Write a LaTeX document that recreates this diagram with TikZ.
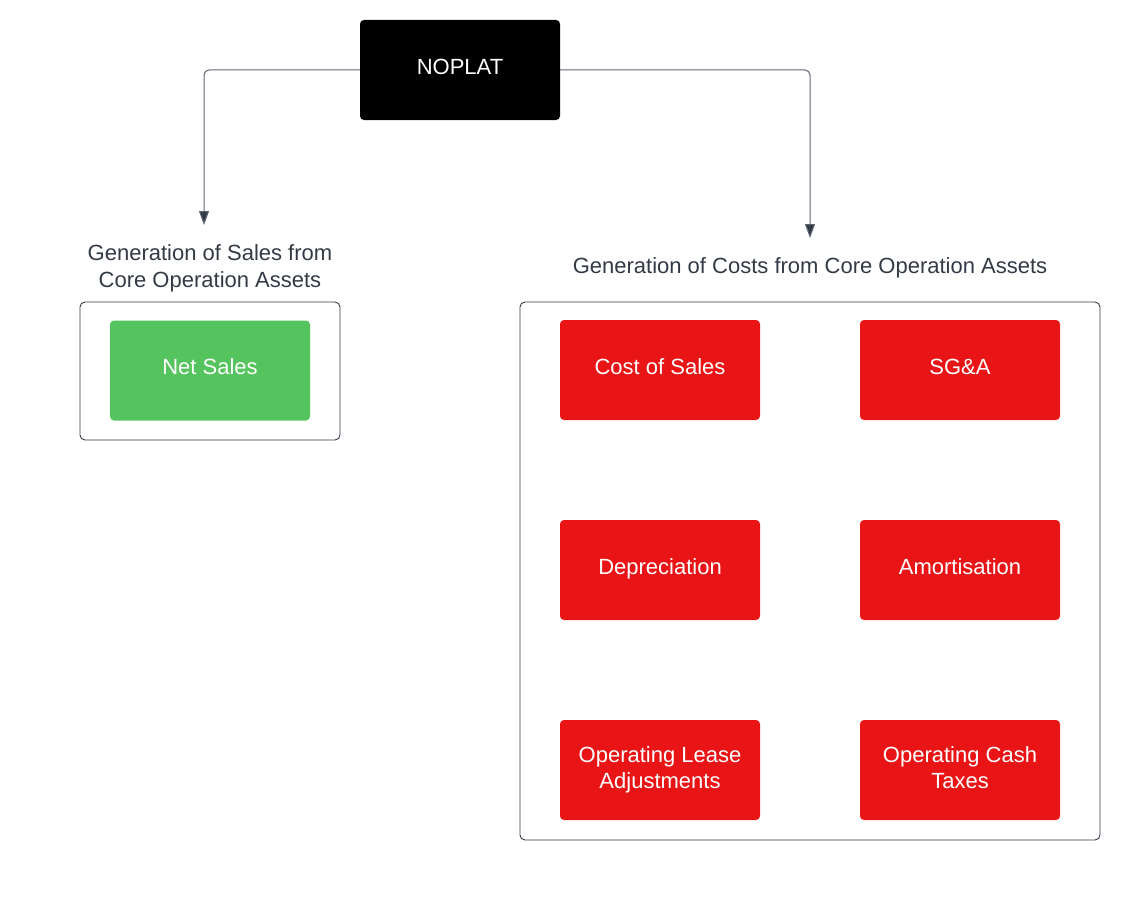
\documentclass[tikz,border=0pt]{standalone}
\usepackage{fontspec}
\setmainfont{Liberation Sans}
\usetikzlibrary{arrows.meta}
\definecolor{redbox}{HTML}{E81416}
\definecolor{greenbox}{HTML}{55C45E}
\definecolor{labeltxt}{HTML}{333A45}
\definecolor{linegray}{HTML}{5E6570}
\begin{document}
\begin{tikzpicture}[x=1pt,y=-1pt,
  box/.style={rectangle,rounded corners=4pt,minimum width=200pt,minimum height=100pt,inner sep=0pt,text=white,font=\fontsize{22}{26}\selectfont,align=center},
  one/.style={text height=16pt,text depth=7.5pt},
  redb/.style={box,fill=redbox},
  container/.style={draw=labeltxt,line width=0.9pt,rounded corners=5pt},
  lbl/.style={text=labeltxt,font=\fontsize{22}{27}\selectfont,align=center,inner sep=0pt},
  conn/.style={draw=linegray,line width=1pt,rounded corners=5pt,-{Triangle[width=10pt,length=14pt,fill=labeltxt]},color=linegray}]
\useasboundingbox (0,0) rectangle (1140,899);
\node[box,one,fill=black] (noplat) at (460,70) {NOPLAT};
\node[lbl] (lsales) at (210,268) {Generation of Sales from\\Core Operation Assets};
\node[lbl] (lcosts) at (810,268) {Generation of Costs from Core Operation Assets};
\draw[container] (80,302) rectangle (340,440);
\draw[container] (520,302) rectangle (1100,840);
\node[box,one,fill=greenbox] (net) at (210,370.5) {Net Sales};
\node[redb,one] (cos) at (660,370) {Cost of Sales};
\node[redb,one] (sga) at (960,370) {SG\&A};
\node[redb,one] (dep) at (660,570) {Depreciation};
\node[redb,one] (amo) at (960,570) {Amortisation};
\node[redb] (ola) at (660,770) {Operating Lease\\Adjustments};
\node[redb] (oct) at (960,770) {Operating Cash\\Taxes\rule[-5.5pt]{0pt}{1pt}};
\coordinate (lend) at (204,225);
\coordinate (rend) at (810,238);
\draw[conn] (noplat.west) -| (lend);
\draw[conn] (noplat.east) -| (rend);
\end{tikzpicture}
\end{document}
